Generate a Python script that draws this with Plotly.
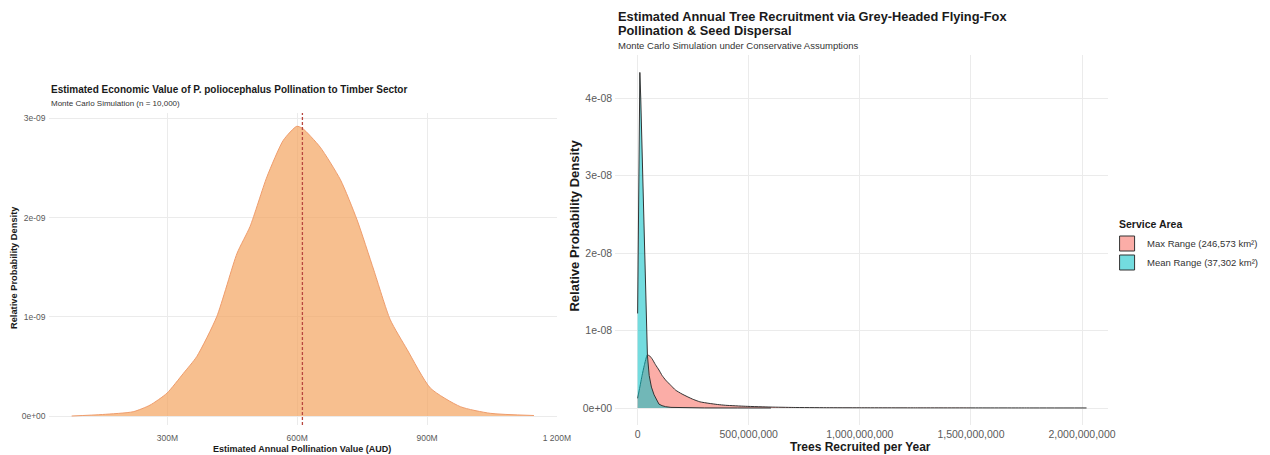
import plotly.graph_objects as go

W, H = 1270, 455

# ---------------- Left panel data (AUD value vs density) ----------------
left_value_m = [78.8, 150, 221, 260, 299, 337, 368, 414, 461, 491, 530, 568, 599, 612,
                653, 700, 738, 777, 815, 854, 908, 977, 1046, 1147]
left_density_e9 = [0.0, 0.015, 0.043, 0.11, 0.23, 0.43, 0.60, 1.00, 1.64, 1.91, 2.41, 2.78,
                   2.92, 2.90, 2.71, 2.38, 1.98, 1.47, 0.97, 0.67, 0.28, 0.094, 0.027, 0.005]
left_mean_m = 612
left_xtick_m = [300, 600, 900, 1200]
left_xtick_text = ["300M", "600M", "900M", "1 200M"]
left_ytick = [0, 1e-9, 2e-9, 3e-9]
left_ytick_text = ["0e+00", "1e-09", "2e-09", "3e-09"]

# ---------------- Right panel data (trees recruited vs density) ----------------
max_range_m = [0, 10, 20, 30, 43.5, 55, 66, 80, 96, 110, 126, 150, 171, 200, 246, 280, 321,
               360, 396, 486, 600, 700, 850, 1000, 1250, 1500, 1750, 2020]
max_range_e8 = [0.125, 0.27, 0.42, 0.55, 0.684, 0.67, 0.63, 0.56, 0.49, 0.42, 0.36, 0.29, 0.23,
                0.18, 0.116, 0.08, 0.06, 0.045, 0.035, 0.022, 0.012, 0.007, 0.004, 0.003,
                0.002, 0.0015, 0.001, 0.0005]
mean_range_m = [0, 3, 6, 10, 14, 20, 26, 32, 38, 44, 52, 62, 74, 85, 96, 110, 126, 150, 200,
                300, 450, 600]
mean_range_e8 = [1.22, 2.3, 3.4, 4.33, 4.0, 3.3, 2.75, 2.0, 1.3, 0.68, 0.42, 0.27, 0.17, 0.10,
                 0.05, 0.03, 0.017, 0.008, 0.003, 0.001, 0.0004, 0.0001]
right_xtick = [0, 500e6, 1000e6, 1500e6, 2000e6]
right_ytick = [0, 1e-8, 2e-8, 3e-8, 4e-8]
right_ytick_text = ["0e+00", "1e-08", "2e-08", "3e-08", "4e-08"]
series_names = ["Max Range (246,573 km²)", "Mean Range (37,302 km²)"]
series_fill = ["rgba(248,118,109,0.6)", "rgba(0,191,196,0.55)"]
legend_title = "Service Area"

FONT = "Liberation Sans, Arial, Helvetica, sans-serif"
GRID = "#EBEBEB"
TICK = "#5A5A5A"
XS = 1 / 0.988  # empirical horizontal correction


def px_x(p):
    return min(p * XS / W, 1.0)


def px_y(p):
    return 1 - p / H


fig = go.Figure()

# Left density
fig.add_trace(go.Scatter(
    x=[v * 1e6 for v in left_value_m], y=[d * 1e-9 for d in left_density_e9],
    mode="lines", line=dict(color="#EE9C6C", width=1, shape="spline", smoothing=0.6),
    fill="tozeroy", fillcolor="rgba(244,164,96,0.7)", showlegend=False,
    xaxis="x", yaxis="y", hoverinfo="skip"))

# Right densities
fig.add_trace(go.Scatter(
    x=[v * 1e6 for v in max_range_m], y=[d * 1e-8 for d in max_range_e8],
    mode="lines", line=dict(color="#333333", width=1, shape="spline", smoothing=0.5),
    fill="tozeroy", fillcolor=series_fill[0], name=series_names[0], showlegend=False,
    xaxis="x2", yaxis="y2", hoverinfo="skip"))
fig.add_trace(go.Scatter(
    x=[v * 1e6 for v in mean_range_m], y=[d * 1e-8 for d in mean_range_e8],
    mode="lines", line=dict(color="#333333", width=1),
    fill="tozeroy", fillcolor=series_fill[1], name=series_names[1], showlegend=False,
    xaxis="x2", yaxis="y2", hoverinfo="skip"))

# Legend keys (square swatches like ggplot)
for name, col in zip(series_names, series_fill):
    fig.add_trace(go.Scatter(
        x=[None], y=[None], mode="markers", name=name,
        marker=dict(symbol="square", size=15, color=col, line=dict(color="#333333", width=1)),
        xaxis="x2", yaxis="y2", hoverinfo="skip"))

# Mean dashed line
fig.add_shape(type="line", x0=left_mean_m * 1e6, x1=left_mean_m * 1e6, y0=0, y1=1,
              xref="x", yref="y domain", line=dict(color="#B8473F", width=1.3, dash="3px,2px"))

axis_common = dict(showgrid=True, gridcolor=GRID, gridwidth=1, zeroline=False, showline=False,
                   ticks="")

fig.update_layout(
    width=W, height=H, margin=dict(l=0, r=0, t=0, b=0),
    paper_bgcolor="white", plot_bgcolor="white",
    font=dict(family=FONT, color="#1a1a1a"),
    xaxis=dict(domain=[px_x(48.5), px_x(556.5)], range=[25.4e6, 1200.4e6],
               tickvals=[v * 1e6 for v in left_xtick_m], ticktext=left_xtick_text,
               anchor="y", ticklabelstandoff=6, tickfont=dict(family=FONT, color=TICK, size=8.5),
               **axis_common),
    yaxis=dict(domain=[px_y(425), px_y(113)], range=[-0.0907e-9, 3.054e-9],
               tickvals=left_ytick, ticktext=left_ytick_text, anchor="x",
               ticklabelstandoff=2, tickfont=dict(family=FONT, color=TICK, size=8.5),
               **axis_common),
    xaxis2=dict(domain=[px_x(614.6), px_x(1107)], range=[-0.1009e9, 2.1171e9],
                tickvals=right_xtick, tickformat=",d", anchor="y2", ticklabelstandoff=2,
                tickfont=dict(family=FONT, color=TICK, size=10.5), **axis_common),
    yaxis2=dict(domain=[px_y(424.8), px_y(55.4)], range=[-0.2168e-8, 4.5497e-8],
                tickvals=right_ytick, ticktext=right_ytick_text, anchor="x2",
                ticklabelstandoff=2, tickfont=dict(family=FONT, color=TICK, size=10.5),
                **axis_common),
    legend=dict(x=px_x(1106), y=px_y(229), xanchor="left", yanchor="top",
                font=dict(family=FONT, size=9.5, color="#333333"), itemwidth=30,
                tracegroupgap=0, bgcolor="rgba(0,0,0,0)"),
)

ann = [
    dict(text="<b>Estimated Economic Value of P. poliocephalus Pollination to Timber Sector</b>",
         x=px_x(49), y=px_y(90), xanchor="left", yanchor="middle", font=dict(size=10)),
    dict(text="Monte Carlo Simulation (n = 10,000)", x=px_x(49), y=px_y(104),
         xanchor="left", yanchor="middle", font=dict(size=8, color="#333333")),
    dict(text="<b>Relative Probability Density</b>", x=px_x(14), y=px_y(268), textangle=-90,
         xanchor="center", yanchor="middle", font=dict(size=9.3)),
    dict(text="<b>Estimated Annual Pollination Value (AUD)</b>", x=px_x(302), y=px_y(449),
         xanchor="center", yanchor="middle", font=dict(size=9)),
    dict(text="<b>Estimated Annual Tree Recruitment via Grey-Headed Flying-Fox</b>",
         x=px_x(615), y=px_y(16.5), xanchor="left", yanchor="middle", font=dict(size=12.8)),
    dict(text="<b>Pollination & Seed Dispersal</b>",
         x=px_x(615), y=px_y(31), xanchor="left", yanchor="middle", font=dict(size=12.8)),
    dict(text="Monte Carlo Simulation under Conservative Assumptions", x=px_x(615), y=px_y(46),
         xanchor="left", yanchor="middle", font=dict(size=9.5, color="#333333")),
    dict(text="<b>Relative Probability Density</b>", x=px_x(573), y=px_y(226), textangle=-90,
         xanchor="center", yanchor="middle", font=dict(size=13)),
    dict(text="<b>Trees Recruited per Year</b>", x=px_x(860), y=px_y(447),
         xanchor="center", yanchor="middle", font=dict(size=12)),
    dict(text=f"<b>{legend_title}</b>", x=px_x(1116), y=px_y(224),
         xanchor="left", yanchor="middle", font=dict(size=10.5)),
]
for a in ann:
    a.update(xref="paper", yref="paper", showarrow=False)
    a["font"] = dict(family=FONT, color=a["font"].get("color", "#1a1a1a"), size=a["font"]["size"])
fig.update_layout(annotations=ann)

fig.write_html(
    "out.html",
    config={"displayModeBar": False},
    post_script="document.documentElement.style.overflow='hidden';"
                "document.body.style.margin='0';document.body.style.overflow='hidden';",
)
